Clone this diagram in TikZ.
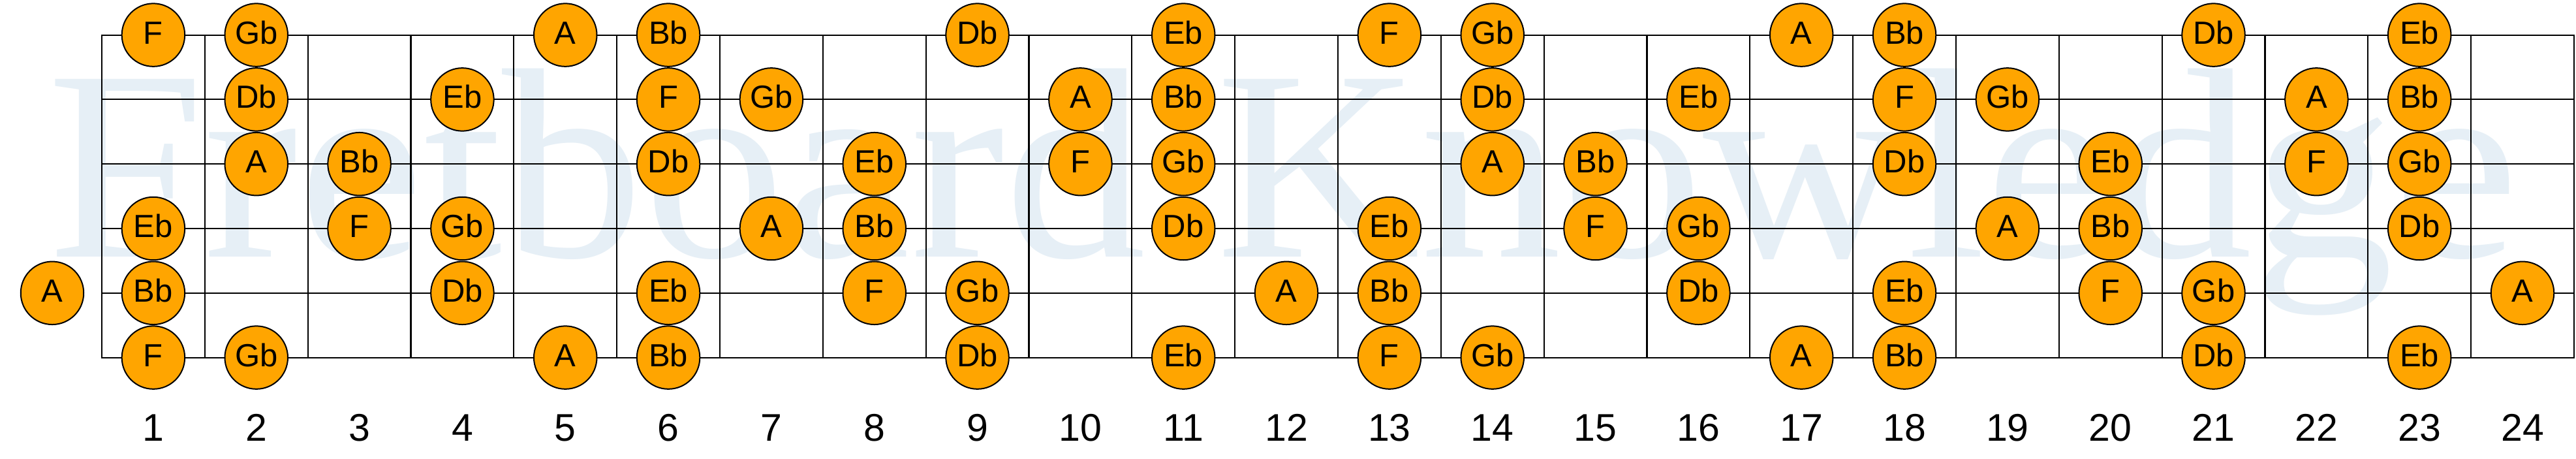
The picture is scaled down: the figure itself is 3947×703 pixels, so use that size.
\documentclass[tikz,border=0pt]{standalone}
\usepackage{fontspec}
\setmainfont{Liberation Sans}
\newfontfamily\wmfont{Liberation Serif}
\definecolor{notefill}{HTML}{FFA500}
\definecolor{wmblue}{HTML}{E6EFF6}
\begin{document}
\begin{tikzpicture}[x=1pt,y=-1pt,
  gridline/.style={line width=2.1pt,black,line cap=rect},
  note/.style={circle,draw=black,line width=2pt,fill=notefill,minimum size=96.5pt,inner sep=0pt,text height=35pt,text depth=8pt,font=\fontsize{49}{49}\selectfont},
  fretnum/.style={font=\fontsize{59}{59}\selectfont,anchor=base,inner sep=0pt},
  watermark/.style={anchor=base west,inner sep=0pt,text=wmblue,font=\wmfont\fontsize{433}{433}\selectfont,yscale=0.96}]
\useasboundingbox (0,0) rectangle (3947,703);
\fill[white] (0,0) rectangle (3947,703);
\node[watermark] (wm) at (72,393) {Fretboard Knowledge};
\foreach \k in {0,...,24}
  \draw[gridline] ({156+157.83*\k},53.6) -- ({156+157.83*\k},547.6);
\foreach \s in {0,...,5}
  \draw[gridline] (156,{53.6+98.8*\s}) -- (3944,{53.6+98.8*\s});
\foreach \n in {1,...,24}
  \node[fretnum] (num\n) at ({156+157.83*(\n-0.5)},675) {\n};
% strings: 1 = top
\foreach \f/\t in {1/F,2/Gb,5/A,6/Bb,9/Db,11/Eb,13/F,14/Gb,17/A,18/Bb,21/Db,23/Eb}
  \node[note] (s1-\f) at ({156+157.83*(\f-0.5)},53.6) {\t};
\foreach \f/\t in {2/Db,4/Eb,6/F,7/Gb,10/A,11/Bb,14/Db,16/Eb,18/F,19/Gb,22/A,23/Bb}
  \node[note] (s2-\f) at ({156+157.83*(\f-0.5)},152.4) {\t};
\foreach \f/\t in {2/A,3/Bb,6/Db,8/Eb,10/F,11/Gb,14/A,15/Bb,18/Db,20/Eb,22/F,23/Gb}
  \node[note] (s3-\f) at ({156+157.83*(\f-0.5)},251.2) {\t};
\foreach \f/\t in {1/Eb,3/F,4/Gb,7/A,8/Bb,11/Db,13/Eb,15/F,16/Gb,19/A,20/Bb,23/Db}
  \node[note] (s4-\f) at ({156+157.83*(\f-0.5)},350) {\t};
\node[note] (s5-0) at (80,448.8) {A};
\foreach \f/\t in {1/Bb,4/Db,6/Eb,8/F,9/Gb,12/A,13/Bb,16/Db,18/Eb,20/F,21/Gb,24/A}
  \node[note] (s5-\f) at ({156+157.83*(\f-0.5)},448.8) {\t};
\foreach \f/\t in {1/F,2/Gb,5/A,6/Bb,9/Db,11/Eb,13/F,14/Gb,17/A,18/Bb,21/Db,23/Eb}
  \node[note] (s6-\f) at ({156+157.83*(\f-0.5)},547.6) {\t};
\end{tikzpicture}
\end{document}
